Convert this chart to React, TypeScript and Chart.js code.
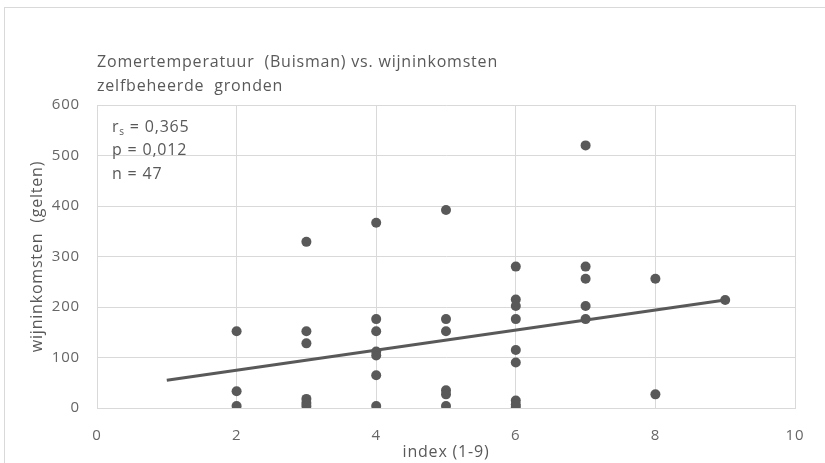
import React, { useEffect, useRef } from "react";
import { Chart, registerables } from "chart.js";

Chart.register(...registerables);

const chartTitleLines = ["Zomertemperatuur  (Buisman) vs. wijninkomsten", "zelfbeheerde  gronden"];
const xAxisTitle = "index (1-9)";
const yAxisTitle = "wijninkomsten  (gelten)";

const indexValues = [
  2, 2, 2,
  3, 3, 3, 3, 3, 3,
  4, 4, 4, 4, 4, 4, 4,
  5, 5, 5, 5, 5, 5,
  6, 6, 6, 6, 6, 6, 6, 6, 6,
  7, 7, 7, 7, 7,
  8, 8,
  9,
];
const incomeValues = [
  152, 33, 4,
  329, 152, 128, 18, 10, 4,
  367, 176, 152, 112, 104, 65, 4,
  392, 176, 152, 35, 27, 4,
  280, 215, 202, 176, 115, 90, 15, 7, 2,
  520, 280, 256, 202, 176,
  256, 27,
  214,
];
const trendX = [1, 9];
const trendY = [55, 214];

const xTicks = [0, 2, 4, 6, 8, 10];
const yTicks = [0, 100, 200, 300, 400, 500, 600];

const statsLines = [
  { main: "r", sub: "s", rest: " = 0,365" },
  { main: "p = 0,012", sub: "", rest: "" },
  { main: "n = 47", sub: "", rest: "" },
];

const TEXT = "#595959";
const TICK = "#666666";
const GRID = "#d9d9d9";
const FONT = "'Open Sans', Lato, sans-serif";

export default function App() {
  const ref = useRef<HTMLCanvasElement | null>(null);

  useEffect(() => {
    document.body.style.margin = "0";
    const canvas = ref.current;
    if (!canvas) return;

    const decor = {
      id: "decor",
      beforeDraw(chart: any) {
        const ctx = chart.ctx;
        ctx.save();
        ctx.fillStyle = "#ffffff";
        ctx.fillRect(0, 0, chart.width, chart.height);
        ctx.strokeStyle = GRID;
        ctx.lineWidth = 1;
        ctx.strokeRect(4.5, 7.5, chart.width + 20, chart.height + 20);
        ctx.restore();
        ctx.letterSpacing = "0.8px";
      },
      afterDraw(chart: any) {
        const ctx = chart.ctx;
        const area = chart.chartArea;
        ctx.save();
        ctx.letterSpacing = "0.8px";
        ctx.fillStyle = TEXT;
        ctx.textBaseline = "middle";
        ctx.textAlign = "left";
        ctx.font = `16px ${FONT}`;
        chartTitleLines.forEach((line, i) => {
          ctx.fillText(line, area.left, 62 + i * 24);
        });

        statsLines.forEach((s, i) => {
          const y = 127 + i * 23.5;
          let x = area.left + 15;
          ctx.font = `16px ${FONT}`;
          ctx.fillText(s.main, x, y);
          x += ctx.measureText(s.main).width;
          if (s.sub) {
            ctx.font = `10px ${FONT}`;
            ctx.fillText(s.sub, x, y + 5);
            x += ctx.measureText(s.sub).width;
          }
          ctx.font = `16px ${FONT}`;
          ctx.fillText(s.rest, x, y);
        });

        ctx.font = `16px ${FONT}`;
        ctx.textAlign = "center";
        ctx.fillText(xAxisTitle, (area.left + area.right) / 2, 452);

        ctx.translate(37, (area.top + area.bottom) / 2);
        ctx.rotate(-Math.PI / 2);
        ctx.fillText(yAxisTitle, 0, 0);
        ctx.restore();
      },
    };

    const chart = new Chart(canvas, {
      type: "scatter",
      data: {
        datasets: [
          {
            label: "data",
            data: indexValues.map((x, i) => ({ x, y: incomeValues[i] })),
            backgroundColor: "#595959",
            borderColor: "#595959",
            borderWidth: 0,
            pointRadius: 5,
            pointHoverRadius: 5,
            showLine: false,
            order: 2,
          },
          {
            label: "trend",
            data: trendX.map((x, i) => ({ x, y: trendY[i] })),
            type: "line",
            borderColor: "#595959",
            borderWidth: 3,
            pointRadius: 0,
            showLine: true,
            fill: false,
            order: 1,
          } as any,
        ],
      },
      options: {
        responsive: false,
        animation: false,
        events: [],
        layout: { padding: { left: 0, top: 105, right: 30, bottom: 0 } },
        plugins: {
          legend: { display: false },
          title: { display: false },
          tooltip: { enabled: false },
        },
        scales: {
          x: {
            type: "linear",
            min: 0,
            max: 10,
            afterBuildTicks: (scale: any) => {
              scale.ticks = xTicks.map((v) => ({ value: v }));
            },
            afterFit: (scale: any) => {
              scale.height = 463 - 408;
            },
            grid: { color: GRID, lineWidth: 1, drawTicks: false },
            border: { color: GRID },
            ticks: {
              color: TICK,
              font: { family: FONT, size: 15 },
              padding: 19,
              maxRotation: 0,
            },
          },
          y: {
            type: "linear",
            min: 0,
            max: 600,
            afterBuildTicks: (scale: any) => {
              scale.ticks = yTicks.map((v) => ({ value: v }));
            },
            afterFit: (scale: any) => {
              scale.width = 97;
            },
            grid: { color: GRID, lineWidth: 1, drawTicks: false },
            border: { color: GRID },
            ticks: {
              color: TICK,
              font: { family: FONT, size: 15 },
              padding: 17,
            },
          },
        },
      },
      plugins: [decor],
    });

    return () => chart.destroy();
  }, []);

  return (
    <div style={{ position: "absolute", left: 0, top: 0, width: 825, height: 463 }}>
      <canvas ref={ref} width={825} height={463} style={{ display: "block" }} />
    </div>
  );
}
